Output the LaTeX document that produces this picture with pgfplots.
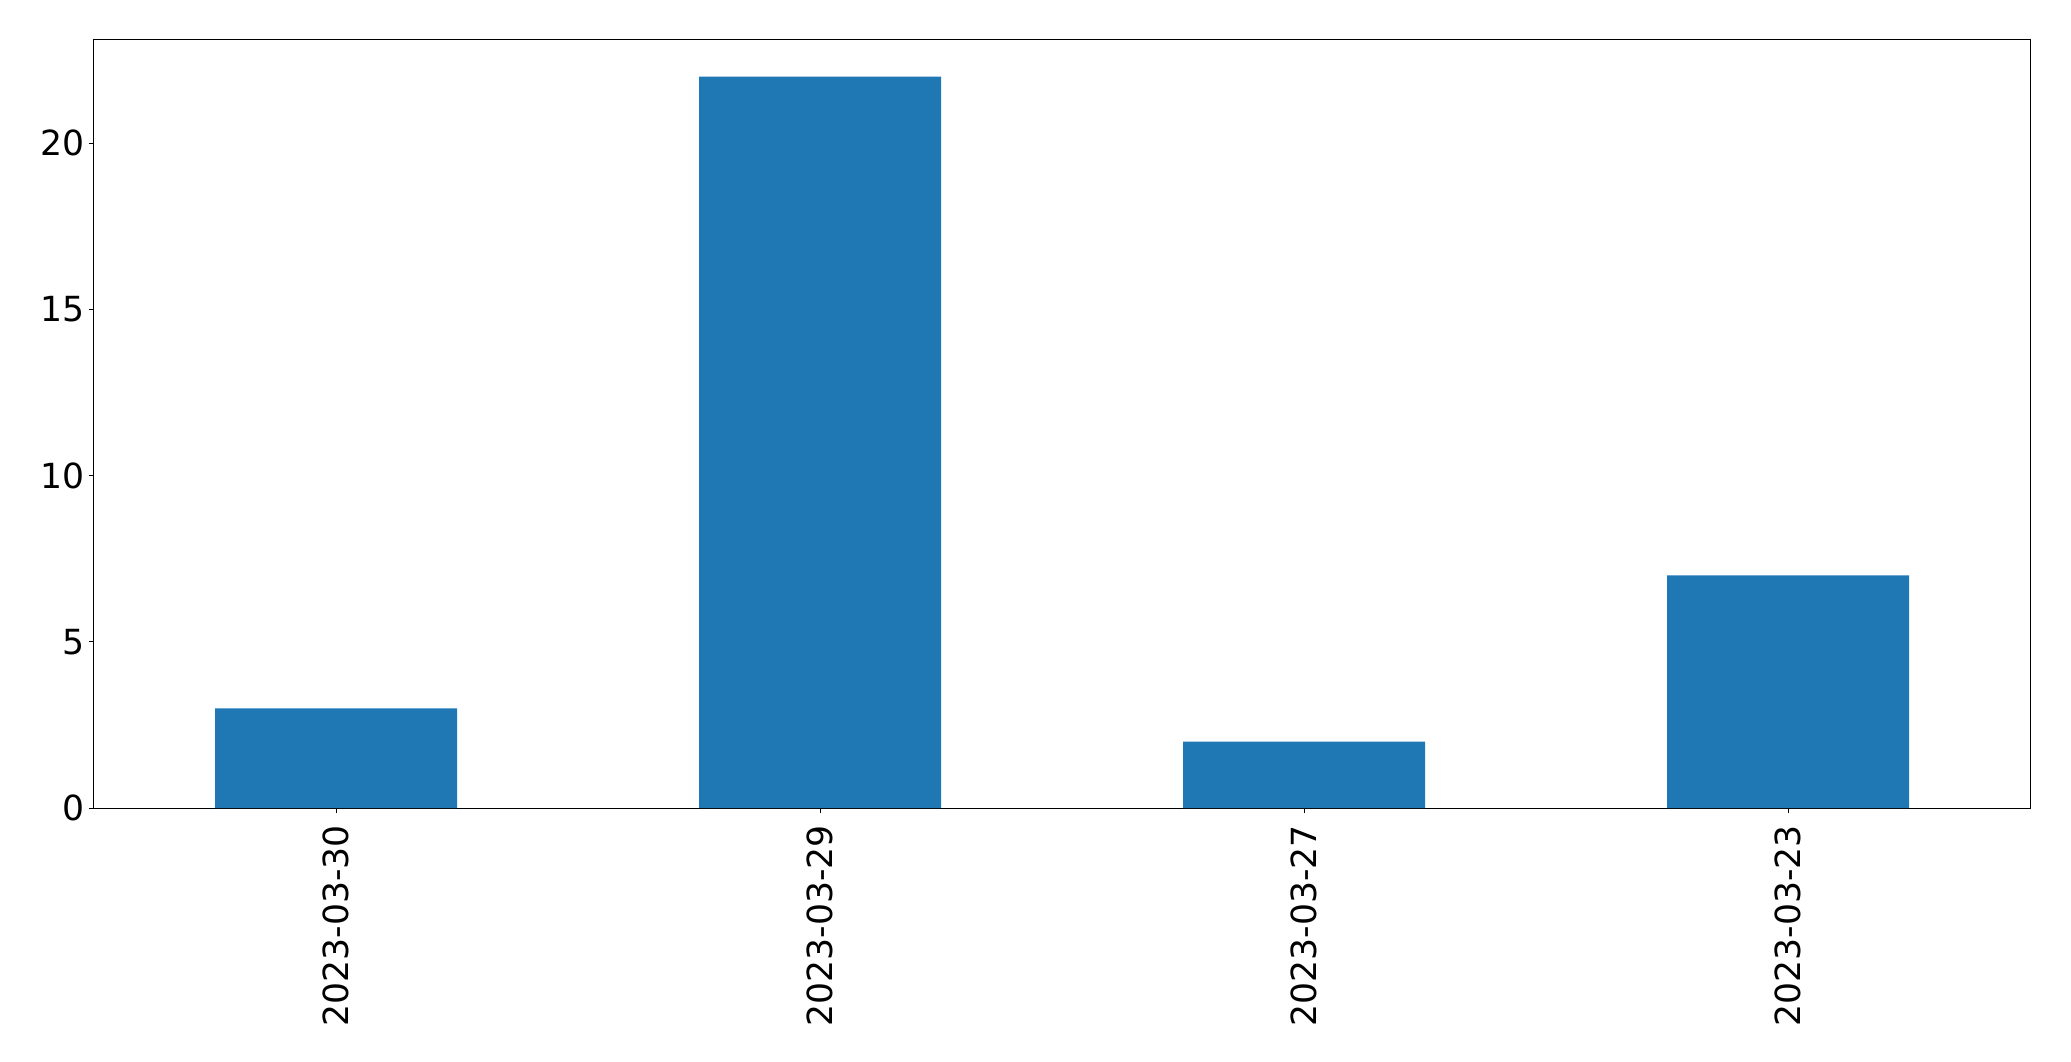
\documentclass[border=0pt]{standalone}
\usepackage{pgfplots}
\pgfplotsset{compat=1.18}
\usepackage{fontspec}
\setmainfont{DejaVu Sans}
\definecolor{mplblue}{HTML}{1F77B4}
\begin{document}
\begin{tikzpicture}
\path[use as bounding box] (-47pt,-126.5pt) rectangle (988.5pt,404pt);
\begin{axis}[
  at={(0,0)}, anchor=south west,
  width=968pt, height=384pt, scale only axis,
  xmin=-0.5, xmax=3.5, ymin=0, ymax=23.1,
  xtick={0,1,2,3},
  xticklabels={2023-03-30,2023-03-29,2023-03-27,2023-03-23},
  ytick={0,5,10,15,20},
  tick align=outside, tick pos=left,
  major tick length=2.5pt,
  tick style={black, line width=0.5pt},
  axis line style={black, line width=0.5pt},
  font=\fontsize{17.3}{20}\selectfont,
  /pgf/number format/assume math mode=true,
  x tick label style={rotate=90, anchor=east, inner sep=0pt},
  xticklabel shift=6pt,
  y tick label style={anchor=east, inner sep=0pt},
  yticklabel shift=2pt,
]
\addplot[ybar, bar width=0.5, fill=mplblue, draw=none] coordinates {(0,3) (1,22) (2,2) (3,7)};
\end{axis}
\end{tikzpicture}
\end{document}
